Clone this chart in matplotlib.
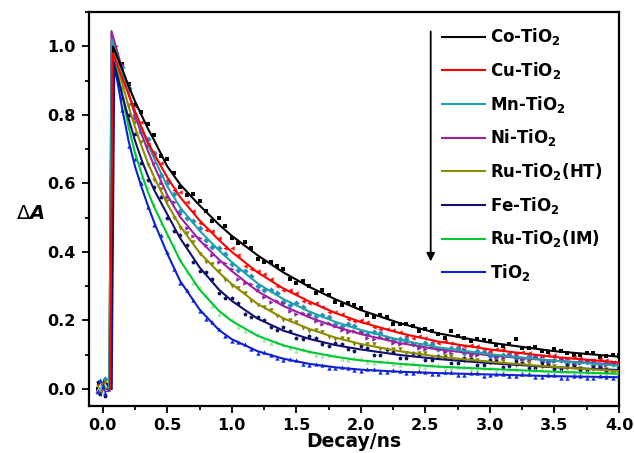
import matplotlib
matplotlib.use("Agg")
import matplotlib.pyplot as plt
from matplotlib.ticker import MultipleLocator
from matplotlib.lines import Line2D

plt.rcParams['font.family'] = ['DejaVu Sans']
plt.rcParams['font.weight'] = 'bold'
plt.rcParams['mathtext.fontset'] = 'custom'
plt.rcParams['mathtext.rm'] = 'DejaVu Sans:bold'
plt.rcParams['mathtext.bf'] = 'DejaVu Sans:bold'
plt.rcParams['mathtext.it'] = 'DejaVu Sans:bold:italic'

# ---------------- data ----------------
labels = ['Co-TiO$_2$', 'Cu-TiO$_2$', 'Mn-TiO$_2$', 'Ni-TiO$_2$',
          'Ru-TiO$_2$(HT)', 'Fe-TiO$_2$', 'Ru-TiO$_2$(IM)', 'TiO$_2$']

# fitted curves: onset, peak time, peak value, then decay on common grid
onset_t = [0.060, 0.058, 0.050, 0.052, 0.052, 0.065, 0.050, 0.070]
peak_t = [0.080, 0.078, 0.070, 0.068, 0.072, 0.085, 0.070, 0.090]
peak_v = [1.000, 0.980, 1.020, 1.045, 1.000, 0.955, 1.010, 0.950]

t_fit = [0.15, 0.2, 0.25, 0.3, 0.35, 0.4, 0.5, 0.6, 0.75, 0.9, 1.0, 1.2,
         1.4, 1.6, 1.8, 2.0, 2.3, 2.6, 3.0, 3.5, 4.0]
fit_co = [0.935, 0.885, 0.84, 0.80, 0.76, 0.725, 0.65, 0.597, 0.536, 0.48, 0.447, 0.39,
          0.34, 0.298, 0.262, 0.23, 0.192, 0.162, 0.135, 0.11, 0.094]
fit_cu = [0.91, 0.86, 0.81, 0.765, 0.72, 0.685, 0.618, 0.56, 0.492, 0.435, 0.40, 0.34,
          0.293, 0.255, 0.222, 0.195, 0.163, 0.138, 0.115, 0.093, 0.077]
fit_mn = [0.925, 0.865, 0.81, 0.76, 0.715, 0.672, 0.592, 0.53, 0.462, 0.405, 0.37, 0.308,
          0.262, 0.226, 0.196, 0.172, 0.143, 0.121, 0.101, 0.082, 0.068]
fit_ni = [0.935, 0.865, 0.80, 0.745, 0.695, 0.65, 0.566, 0.502, 0.434, 0.378, 0.344, 0.285,
          0.242, 0.209, 0.182, 0.16, 0.134, 0.115, 0.098, 0.082, 0.071]
fit_ruht = [0.895, 0.825, 0.765, 0.71, 0.66, 0.617, 0.54, 0.475, 0.398, 0.34, 0.306, 0.248,
            0.206, 0.175, 0.15, 0.131, 0.11, 0.094, 0.079, 0.064, 0.052]
fit_fe = [0.86, 0.79, 0.725, 0.67, 0.622, 0.58, 0.51, 0.44, 0.355, 0.29, 0.257, 0.205,
          0.17, 0.146, 0.128, 0.115, 0.099, 0.087, 0.075, 0.063, 0.055]
fit_ruim = [0.86, 0.765, 0.69, 0.63, 0.575, 0.53, 0.452, 0.375, 0.29, 0.228, 0.198, 0.155,
            0.127, 0.108, 0.094, 0.083, 0.073, 0.065, 0.058, 0.05, 0.044]
fit_tio2 = [0.82, 0.725, 0.65, 0.59, 0.535, 0.485, 0.395, 0.315, 0.232, 0.172, 0.145, 0.11,
            0.088, 0.073, 0.063, 0.056, 0.05, 0.046, 0.042, 0.037, 0.034]

# measured points (before time zero)
t_pre = [-0.04, -0.02, 0.0, 0.02, 0.04]
pre_co = [0.0, 0.012, -0.005, 0.02, 0.003]
pre_cu = [0.015, -0.008, 0.02, 0.005, 0.0]
pre_mn = [-0.01, 0.02, 0.0, 0.03, 0.01]
pre_ni = [-0.01, 0.005, 0.018, -0.005, 0.01]
pre_ruht = [0.005, -0.01, 0.01, 0.02, -0.003]
pre_fe = [0.02, -0.015, 0.005, -0.02, 0.015]
pre_ruim = [0.0, 0.01, -0.01, 0.012, 0.025]
pre_tio2 = [-0.005, 0.025, 0.01, -0.012, 0.0]

# measured points (decay, whole tenths)
t_pts = [0.1, 0.2, 0.3, 0.4, 0.5, 0.6, 0.7, 0.8, 0.9, 1.0,
         1.1, 1.2, 1.3, 1.4, 1.5, 1.6, 1.7, 1.8, 1.9, 2.0,
         2.1, 2.2, 2.3, 2.4, 2.5, 2.6, 2.7, 2.8, 2.9, 3.0,
         3.1, 3.2, 3.3, 3.4, 3.5, 3.6, 3.7, 3.8, 3.9, 4.0]
pts_co = [0.97, 0.89, 0.81, 0.74, 0.67, 0.59, 0.57, 0.52, 0.50, 0.44,
          0.43, 0.38, 0.37, 0.35, 0.31, 0.30, 0.29, 0.255, 0.25, 0.235,
          0.21, 0.21, 0.19, 0.185, 0.175, 0.16, 0.17, 0.15, 0.145, 0.14,
          0.125, 0.145, 0.12, 0.11, 0.115, 0.105, 0.10, 0.105, 0.095, 0.10]
pts_cu = [0.95, 0.87, 0.78, 0.69, 0.61, 0.575, 0.52, 0.465, 0.44, 0.41,
          0.36, 0.345, 0.32, 0.29, 0.28, 0.25, 0.24, 0.225, 0.205, 0.20,
          0.18, 0.175, 0.165, 0.15, 0.15, 0.135, 0.135, 0.125, 0.125, 0.11,
          0.115, 0.105, 0.105, 0.095, 0.10, 0.09, 0.09, 0.085, 0.085, 0.08]
pts_mn = [0.98, 0.88, 0.75, 0.69, 0.60, 0.52, 0.49, 0.435, 0.41, 0.365,
          0.345, 0.30, 0.29, 0.255, 0.25, 0.22, 0.215, 0.19, 0.19, 0.165,
          0.165, 0.15, 0.145, 0.13, 0.135, 0.115, 0.12, 0.105, 0.11, 0.095,
          0.10, 0.09, 0.095, 0.08, 0.085, 0.075, 0.08, 0.07, 0.075, 0.065]
pts_ni = [1.00, 0.89, 0.76, 0.66, 0.56, 0.51, 0.445, 0.42, 0.37, 0.35,
          0.31, 0.29, 0.255, 0.25, 0.22, 0.215, 0.19, 0.185, 0.165, 0.165,
          0.145, 0.15, 0.13, 0.135, 0.115, 0.12, 0.105, 0.115, 0.10, 0.105,
          0.09, 0.10, 0.085, 0.095, 0.08, 0.09, 0.075, 0.085, 0.07, 0.095]
pts_ruht = [0.95, 0.83, 0.72, 0.61, 0.55, 0.47, 0.43, 0.37, 0.345, 0.30,
            0.28, 0.245, 0.23, 0.20, 0.195, 0.17, 0.165, 0.145, 0.145, 0.125,
            0.13, 0.11, 0.115, 0.10, 0.105, 0.09, 0.095, 0.08, 0.085, 0.075,
            0.08, 0.07, 0.075, 0.065, 0.068, 0.058, 0.062, 0.055, 0.058, 0.05]
pts_fe = [0.93, 0.80, 0.66, 0.59, 0.50, 0.45, 0.37, 0.34, 0.28, 0.265,
          0.22, 0.21, 0.18, 0.18, 0.15, 0.155, 0.13, 0.135, 0.115, 0.125,
          0.10, 0.115, 0.09, 0.105, 0.085, 0.095, 0.075, 0.09, 0.07, 0.085,
          0.065, 0.08, 0.06, 0.075, 0.058, 0.07, 0.055, 0.065, 0.05, 0.06]
pts_ruim = [0.94, 0.77, 0.62, 0.54, 0.445, 0.38, 0.31, 0.275, 0.22, 0.205,
            0.17, 0.16, 0.135, 0.13, 0.11, 0.11, 0.095, 0.10, 0.085, 0.09,
            0.075, 0.08, 0.07, 0.075, 0.063, 0.07, 0.06, 0.065, 0.055, 0.062,
            0.052, 0.058, 0.05, 0.056, 0.047, 0.052, 0.045, 0.05, 0.042, 0.047]
pts_tio2 = [0.92, 0.71, 0.60, 0.48, 0.40, 0.31, 0.26, 0.205, 0.175, 0.14,
            0.13, 0.105, 0.10, 0.085, 0.083, 0.07, 0.07, 0.06, 0.062, 0.053,
            0.057, 0.049, 0.053, 0.046, 0.05, 0.043, 0.048, 0.041, 0.046, 0.04,
            0.044, 0.038, 0.042, 0.035, 0.04, 0.033, 0.038, 0.032, 0.036, 0.03]

# measured points (decay, half tenths)
t_mid = [0.15, 0.25, 0.35, 0.45, 0.55, 0.65, 0.75, 0.85, 0.95, 1.05,
         1.15, 1.25, 1.35, 1.45, 1.55, 1.65, 1.75, 1.85, 1.95, 2.05,
         2.15, 2.25, 2.35, 2.45, 2.55, 2.65, 2.75, 2.85, 2.95, 3.05,
         3.15, 3.25, 3.35, 3.45, 3.55, 3.65, 3.75, 3.85, 3.95]
mid_co = [0.95, 0.83, 0.775, 0.68, 0.63, 0.565, 0.55, 0.49, 0.475, 0.425,
          0.41, 0.37, 0.36, 0.32, 0.315, 0.28, 0.275, 0.245, 0.245, 0.215,
          0.215, 0.19, 0.19, 0.17, 0.17, 0.15, 0.155, 0.14, 0.142, 0.128,
          0.13, 0.118, 0.122, 0.108, 0.112, 0.1, 0.105, 0.094, 0.1]
mid_cu = [0.90, 0.825, 0.715, 0.66, 0.58, 0.545, 0.485, 0.46, 0.41, 0.39,
          0.35, 0.335, 0.30, 0.29, 0.258, 0.252, 0.225, 0.22, 0.197, 0.195,
          0.175, 0.172, 0.155, 0.155, 0.138, 0.14, 0.125, 0.127, 0.115, 0.117,
          0.105, 0.108, 0.097, 0.1, 0.09, 0.092, 0.082, 0.086, 0.078]
mid_mn = [0.94, 0.80, 0.73, 0.625, 0.57, 0.50, 0.47, 0.415, 0.395, 0.348,
          0.33, 0.29, 0.28, 0.245, 0.24, 0.212, 0.21, 0.185, 0.184, 0.16,
          0.163, 0.142, 0.145, 0.126, 0.13, 0.113, 0.118, 0.103, 0.108, 0.094,
          0.1, 0.086, 0.092, 0.079, 0.085, 0.072, 0.079, 0.067, 0.073]
mid_ni = [0.95, 0.79, 0.71, 0.60, 0.545, 0.47, 0.44, 0.39, 0.368, 0.322,
          0.305, 0.268, 0.258, 0.228, 0.222, 0.197, 0.193, 0.171, 0.17, 0.15,
          0.151, 0.134, 0.136, 0.12, 0.123, 0.108, 0.113, 0.1, 0.106, 0.092,
          0.099, 0.086, 0.093, 0.08, 0.087, 0.075, 0.082, 0.07, 0.078]
mid_ruht = [0.88, 0.78, 0.655, 0.585, 0.50, 0.455, 0.395, 0.365, 0.318, 0.296,
            0.258, 0.24, 0.212, 0.202, 0.178, 0.172, 0.152, 0.148, 0.132, 0.13,
            0.117, 0.116, 0.104, 0.104, 0.093, 0.095, 0.085, 0.087, 0.077, 0.08,
            0.071, 0.074, 0.065, 0.068, 0.06, 0.063, 0.055, 0.058, 0.05]
mid_fe = [0.85, 0.745, 0.61, 0.56, 0.46, 0.42, 0.345, 0.32, 0.265, 0.25,
          0.21, 0.2, 0.172, 0.17, 0.145, 0.148, 0.125, 0.13, 0.11, 0.12,
          0.1, 0.108, 0.09, 0.1, 0.083, 0.092, 0.076, 0.086, 0.07, 0.08,
          0.066, 0.076, 0.062, 0.07, 0.057, 0.066, 0.054, 0.062, 0.05]
mid_ruim = [0.87, 0.69, 0.59, 0.485, 0.42, 0.34, 0.298, 0.243, 0.218, 0.182,
            0.17, 0.144, 0.138, 0.118, 0.117, 0.1, 0.1, 0.088, 0.089, 0.079,
            0.082, 0.072, 0.075, 0.066, 0.069, 0.061, 0.065, 0.057, 0.062, 0.054,
            0.059, 0.051, 0.056, 0.048, 0.053, 0.046, 0.05, 0.043, 0.048]
mid_tio2 = [0.815, 0.67, 0.53, 0.45, 0.35, 0.29, 0.228, 0.195, 0.155, 0.138,
            0.115, 0.107, 0.09, 0.087, 0.074, 0.073, 0.062, 0.064, 0.055, 0.058,
            0.05, 0.054, 0.046, 0.051, 0.043, 0.048, 0.041, 0.046, 0.039, 0.044,
            0.037, 0.042, 0.035, 0.04, 0.033, 0.038, 0.032, 0.037, 0.031]

fits = [fit_co, fit_cu, fit_mn, fit_ni, fit_ruht, fit_fe, fit_ruim, fit_tio2]
pres = [pre_co, pre_cu, pre_mn, pre_ni, pre_ruht, pre_fe, pre_ruim, pre_tio2]
pts = [pts_co, pts_cu, pts_mn, pts_ni, pts_ruht, pts_fe, pts_ruim, pts_tio2]
mids = [mid_co, mid_cu, mid_mn, mid_ni, mid_ruht, mid_fe, mid_ruim, mid_tio2]

# ---------------- style ----------------
line_colors = ['#000000', '#ff0000', '#1fa3a8', '#a020a0', '#8c8c00', '#10106e', '#00c832', '#1020d0']
pt_colors = ['#000000', '#ff1010', '#2a8cc0', '#9020a8', '#808000', '#101060', '#a8e6a8', '#1030e8']
markers = ['s', '<', 'D', '>', 'v', 'p', '^', '^']

fig = plt.figure(figsize=(6.34, 4.53), dpi=100)
ax = fig.add_axes([0.1396, 0.1038, 0.8368, 0.8692])

for i in range(8):
    ax.scatter(t_pre + t_pts + t_mid, pres[i] + pts[i] + mids[i], s=10, marker=markers[i],
               color=pt_colors[i], linewidths=0, zorder=2)

order = [7, 6, 5, 4, 3, 2, 0, 1]
handles = [None] * 8
for i in order:
    xs = [onset_t[i], onset_t[i], peak_t[i]] + t_fit
    ys = [0.0, 0.0, peak_v[i]] + fits[i]
    ax.plot(xs, ys, color=line_colors[i], lw=1.5, zorder=3 + (1 if i == 1 else 0))
    handles[i] = Line2D([], [], color=line_colors[i], lw=1.5)

ax.set_xlim(-0.11, 4.0)
ax.set_ylim(-0.05, 1.10)
ax.xaxis.set_major_locator(MultipleLocator(0.5))
ax.xaxis.set_minor_locator(MultipleLocator(0.25))
ax.yaxis.set_major_locator(MultipleLocator(0.2))
ax.yaxis.set_minor_locator(MultipleLocator(0.1))
ax.tick_params(which='both', direction='out', top=False, right=False, width=1.3)
ax.tick_params(which='major', length=5, labelsize=11.5, pad=4)
ax.tick_params(which='minor', length=3)
for lab in ax.get_xticklabels() + ax.get_yticklabels():
    lab.set_fontweight('bold')
for sp in ax.spines.values():
    sp.set_linewidth(1.6)

ax.set_xlabel('Decay/ns', fontsize=13.5, fontweight='bold', labelpad=-1)
ax.set_ylabel('Δ$\\mathit{A}$', fontsize=14, fontweight='normal', rotation=0, va='center')
ax.yaxis.set_label_coords(-0.11, 0.49)

leg = ax.legend(handles, labels, loc='upper left', bbox_to_anchor=(0.666, 0.964),
                frameon=False, fontsize=12, handlelength=2.6, handletextpad=0.3,
                labelspacing=0.76, borderpad=0, borderaxespad=0)
for txt in leg.get_texts():
    txt.set_fontweight('bold')

ax.annotate('', xy=(0.645, 0.36), xytext=(0.645, 0.958), xycoords='axes fraction',
            arrowprops=dict(arrowstyle='-|>', color='black', lw=1.3, mutation_scale=12))

fig.savefig('out.png', dpi=100)
